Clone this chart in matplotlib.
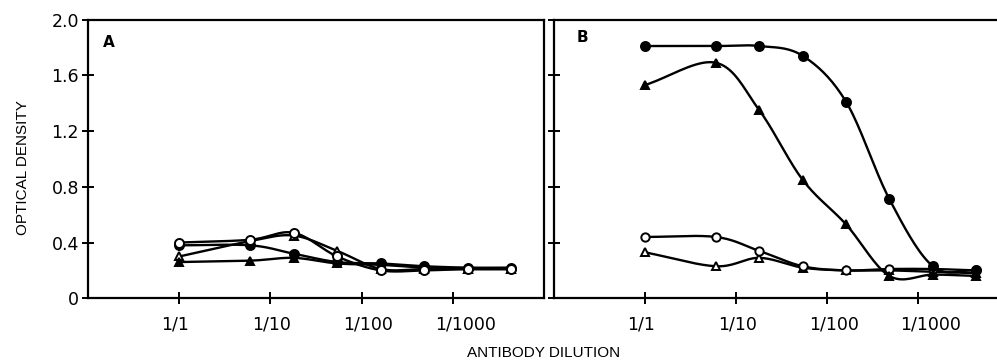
import numpy as np
import matplotlib
matplotlib.use("Agg")
import matplotlib.pyplot as plt
from matplotlib.transforms import ScaledTranslation

plt.rcParams['font.family'] = ['DejaVu Sans']

# reciprocal dilution
dil = [1, 6, 18, 54, 162, 486, 1458, 4374]
tick_vals = [1, 10, 100, 1000]
tick_labels = ['1/1', '1/10', '1/100', '1/1000']
y_ticks = [0, 0.4, 0.8, 1.2, 1.6, 2.0]
y_labels = ['0', '0.4', '0.8', '1.2', '1.6', '2.0']

# panel A
a_filled_circle = [0.38, 0.38, 0.32, 0.26, 0.25, 0.23, 0.22, 0.22]
a_open_circle = [0.40, 0.42, 0.47, 0.30, 0.20, 0.20, 0.21, 0.21]
a_filled_tri = [0.26, 0.27, 0.29, 0.25, 0.24, 0.22, 0.21, 0.21]
a_open_tri = [0.30, 0.41, 0.45, 0.34, 0.21, 0.21, 0.21, 0.21]

# panel B
b_filled_circle = [1.81, 1.81, 1.81, 1.74, 1.41, 0.71, 0.23, 0.20]
b_filled_tri = [1.53, 1.69, 1.35, 0.85, 0.53, 0.16, 0.17, 0.16]
b_open_circle = [0.44, 0.44, 0.34, 0.23, 0.20, 0.21, 0.21, 0.20]
b_open_tri = [0.33, 0.23, 0.29, 0.22, 0.20, 0.20, 0.19, 0.18]


def smooth(x, y, n=20):
    # catmull-rom curve through the points, in log-x space
    lx = np.log10(x)
    y = np.asarray(y, float)
    px = np.concatenate([[2 * lx[0] - lx[1]], lx, [2 * lx[-1] - lx[-2]]])
    py = np.concatenate([[2 * y[0] - y[1]], y, [2 * y[-1] - y[-2]]])
    xs, ys = [], []
    t = np.linspace(0, 1, n)
    for i in range(1, len(px) - 2):
        for p, out in ((px, xs), (py, ys)):
            p0, p1, p2, p3 = p[i - 1], p[i], p[i + 1], p[i + 2]
            out.append(0.5 * ((2 * p1) + (-p0 + p2) * t +
                              (2 * p0 - 5 * p1 + 4 * p2 - p3) * t ** 2 +
                              (-p0 + 3 * p1 - 3 * p2 + p3) * t ** 3))
    return 10 ** np.concatenate(xs), np.concatenate(ys)


def draw(ax, y, marker, filled, ms):
    sx, sy = smooth(dil, y)
    ax.plot(sx, sy, color='black', lw=1.7, zorder=2)
    ax.plot(dil, y, linestyle='none', marker=marker, markersize=ms,
            markerfacecolor='black' if filled else 'white',
            markeredgecolor='black', markeredgewidth=1.4, zorder=3)


fig = plt.figure(figsize=(9.97, 3.62), dpi=100)
axA = fig.add_axes([0.0883, 0.176, 0.4573, 0.770])
axB = fig.add_axes([0.5557, 0.176, 0.4563, 0.770])

for ax, series in ((axA, [(a_open_tri, '^', False, 6), (a_filled_tri, '^', True, 5.5),
                          (a_filled_circle, 'o', True, 6.5), (a_open_circle, 'o', False, 6.5)]),
                   (axB, [(b_open_tri, '^', False, 6), (b_open_circle, 'o', False, 6),
                          (b_filled_tri, '^', True, 5.5), (b_filled_circle, 'o', True, 6.5)])):
    for y, m, f, ms in series:
        draw(ax, y, m, f, ms)
    ax.set_xscale('log')
    ax.set_xlim(0.1, 10000)
    ax.set_ylim(0, 2.0)
    ax.set_xticks(tick_vals)
    ax.set_xticklabels(tick_labels)
    ax.minorticks_off()
    ax.set_yticks(y_ticks)
    ax.tick_params(direction='inout', length=9, width=1.4, labelsize=12.5, pad=2)
    ax.tick_params(axis='x', pad=8)
    # slash of each label sits under its tick
    for lab in ax.get_xticklabels():
        lab.set_horizontalalignment('left')
        lab.set_transform(lab.get_transform() + ScaledTranslation(-0.18, 0, fig.dpi_scale_trans))
    for s in ax.spines.values():
        s.set_linewidth(1.6)

axA.set_yticklabels(y_labels)
axB.set_yticklabels([])

axA.text(0.032, 0.916, 'A', transform=axA.transAxes, fontsize=11, fontweight='bold',
         ha='left', va='center')
axB.text(0.05, 0.936, 'B', transform=axB.transAxes, fontsize=11, fontweight='bold',
         ha='left', va='center')

fig.text(0.0226, 0.537, 'OPTICAL DENSITY', rotation=90, ha='center', va='center',
         fontsize=11, family='Liberation Sans')
fig.text(0.545, 0.024, 'ANTIBODY DILUTION', ha='center', va='center',
         fontsize=11, family='Liberation Sans')

fig.savefig('out.png', dpi=100)
